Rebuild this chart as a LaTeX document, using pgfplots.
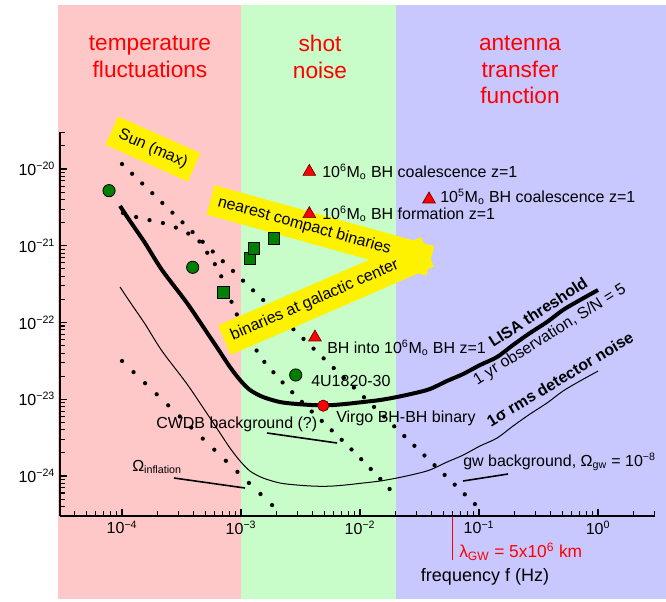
\documentclass[border=0pt]{standalone}
\usepackage{fontspec}
\setmainfont{Liberation Sans}
\usepackage{pgfplots}
\pgfplotsset{compat=1.18}
\definecolor{bgred}{RGB}{255,200,200}
\definecolor{bggreen}{RGB}{200,252,200}
\definecolor{bgblue}{RGB}{200,200,255}
\definecolor{mkgreen}{RGB}{0,128,0}
\begin{document}
\begin{tikzpicture}[font=\fontsize{12}{14.4}\selectfont]
% backgrounds in pixel units of the reference
\begin{scope}[x=0.75pt,y=-0.75pt,shift={(-59.8,-516.1)}]
  \path (0,0) rectangle (666,601);
  \fill[bgred] (58,5) rectangle (241,599);
  \fill[bggreen] (241,5) rectangle (396,599);
  \fill[bgblue] (396,5) rectangle (666,599);
  \node[red, font=\fontsize{17}{20}\selectfont, align=center, inner sep=0pt] at (150,57) {temperature\\fluctuations};
  \node[red, font=\fontsize{17}{20}\selectfont, align=center, inner sep=0pt] at (320,57) {shot\\noise};
  \node[red, font=\fontsize{17}{20}\selectfont, align=center, inner sep=0pt] at (520,70) {antenna\\transfer\\function};
\end{scope}
\begin{axis}[
  at={(0,0)}, anchor=south west,
  scale only axis, width=446.25pt, height=287.8pt,
  xmode=log, ymode=log,
  xmin=3e-5, xmax=3, ymin=3e-25, ymax=3e-20,
  clip=false,
  axis x line=bottom, axis y line=left,
  axis line style={-, line width=1.1pt},
  tick align=inside,
  major tick length=5.5pt, minor tick length=3.8pt,
  every tick/.style={black, line width=0.8pt},
  xtick={1e-4,1e-3,1e-2,1e-1,1},
  xticklabels={10\textsuperscript{−4},10\textsuperscript{−3},10\textsuperscript{−2},10\textsuperscript{−1},10\textsuperscript{0}},
  minor xtick={4e-5,5e-5,6e-5,7e-5,8e-5,9e-5,2e-4,3e-4,4e-4,5e-4,6e-4,7e-4,8e-4,9e-4,2e-3,3e-3,4e-3,5e-3,6e-3,7e-3,8e-3,9e-3,2e-2,3e-2,4e-2,5e-2,6e-2,7e-2,8e-2,9e-2,0.2,0.3,0.4,0.5,0.6,0.7,0.8,0.9,2,3},
  ytick={1e-24,1e-23,1e-22,1e-21,1e-20},
  yticklabels={10\textsuperscript{−24},10\textsuperscript{−23},10\textsuperscript{−22},10\textsuperscript{−21},10\textsuperscript{−20}},
  minor ytick={4e-25,5e-25,6e-25,7e-25,8e-25,9e-25,2e-24,3e-24,4e-24,5e-24,6e-24,7e-24,8e-24,9e-24,2e-23,3e-23,4e-23,5e-23,6e-23,7e-23,8e-23,9e-23,2e-22,3e-22,4e-22,5e-22,6e-22,7e-22,8e-22,9e-22,2e-21,3e-21,4e-21,5e-21,6e-21,7e-21,8e-21,9e-21,2e-20,3e-20},
  tick label style={font=\fontsize{12}{14.4}\selectfont},
]
% Sun (max) dotted line
\addplot[black, line width=3.2pt, line cap=round, dash pattern=on 0pt off 10.5pt] coordinates {(1e-4,1.16e-20) (0.098,3.94e-25)};
% compact binaries dotted curve
\addplot[black, line width=3.2pt, line cap=round, dash pattern=on 0pt off 10.3pt, smooth] coordinates {
(1.019e-4,2.67e-21) (1.311e-4,2.37e-21) (1.686e-4,2.165e-21) (2.21e-4,1.978e-21) (2.898e-4,1.703e-21)
(3.656e-4,1.423e-21) (4.52e-4,1.119e-21) (5.28e-4,7.81e-22) (6.165e-4,5.45e-22) (6.92e-4,3.80e-22)
(8.40e-4,1.795e-22) (9.44e-4,1.18e-22) (1.145e-3,6.88e-23) (1.39e-3,4.01e-23) (1.622e-3,2.88e-23)
(1.968e-3,2.07e-23) (2.343e-3,1.535e-23) (3.45e-3,8.41e-24) (5.08e-3,4.76e-24) (7.48e-3,2.69e-24)
(1.10e-2,1.477e-24) (1.622e-2,7.87e-25) (1.931e-2,5.83e-25)};
% lower dotted line
\addplot[black, line width=3.2pt, line cap=round, dash pattern=on 0pt off 12pt] coordinates {(1e-4,3.15e-23) (1.931e-3,3.83e-25)};
% LISA threshold
\addplot[black, line width=3pt, smooth] coordinates {
(9.62e-5,3.30e-21) (1.167e-4,2.10e-21) (1.561e-4,1.086e-21) (2.168e-4,4.83e-22) (3.517e-4,1.795e-22)
(5.488e-4,6.47e-23) (6.66e-4,4.13e-23) (8.08e-4,2.63e-23) (9.81e-4,1.78e-23) (1.19e-3,1.32e-23)
(1.53e-3,1.07e-23) (2.127e-3,9.20e-24) (2.955e-3,8.67e-24) (4.18e-3,8.37e-24) (5.60e-3,8.37e-24)
(7.48e-3,8.67e-24) (1.06e-2,9.20e-24) (1.472e-2,9.77e-24) (2.047e-2,1.07e-23) (2.90e-2,1.205e-23)
(3.876e-2,1.36e-23) (5.38e-2,1.73e-23) (7.34e-2,2.13e-23) (0.1019,2.79e-23) (0.1417,3.55e-23)
(0.1931,5.09e-23) (0.2683,7.30e-23) (0.3727,1.016e-22) (0.508,1.456e-22) (0.706,1.963e-22) (1.0,2.65e-22)};
% 1 sigma rms detector noise
\addplot[black, line width=0.75pt, smooth] coordinates {
(9.62e-5,2.90e-22) (1.167e-4,1.85e-22) (1.561e-4,9.56e-23) (2.168e-4,4.25e-23) (3.517e-4,1.58e-23)
(5.488e-4,5.69e-24) (6.66e-4,3.63e-24) (8.08e-4,2.31e-24) (9.81e-4,1.57e-24) (1.19e-3,1.16e-24)
(1.53e-3,9.42e-25) (2.127e-3,8.10e-25) (2.955e-3,7.63e-25) (4.18e-3,7.37e-25) (5.60e-3,7.37e-25)
(7.48e-3,7.63e-25) (1.06e-2,8.10e-25) (1.472e-2,8.60e-25) (2.047e-2,9.42e-25) (2.90e-2,1.06e-24)
(3.876e-2,1.20e-24) (5.38e-2,1.52e-24) (7.34e-2,1.87e-24) (0.1019,2.46e-24) (0.1417,3.12e-24)
(0.1931,4.48e-24) (0.2683,6.42e-24) (0.3727,8.94e-24) (0.508,1.28e-23) (0.706,1.73e-23) (1.0,2.33e-23)};
\end{axis}
% yellow label boxes (over the dotted lines, under the marks)
\begin{scope}[x=0.75pt,y=-0.75pt,shift={(-59.8,-516.1)}]
  \node[fill=yellow, rotate=-24, minimum width=67.5pt, minimum height=23.25pt, inner sep=0pt] at (153,149) {Sun (max)};
  \node[fill=yellow, rotate=-15.5, minimum width=171pt, minimum height=22.8pt] at (320.4,230.4) {};
  \node[fill=yellow, rotate=23.5, minimum width=166pt, minimum height=24pt] at (326,296) {};
  \node[rotate=-15.5, anchor=west, inner sep=0pt] at (218,202) {nearest compact binaries};
  \node[rotate=23.5, anchor=west, inner sep=0pt] at (231.3,336.8) {binaries at galactic center};
\end{scope}
\begin{axis}[
  at={(0,0)}, anchor=south west,
  scale only axis, width=446.25pt, height=287.8pt,
  xmode=log, ymode=log,
  xmin=3e-5, xmax=3, ymin=3e-25, ymax=3e-20,
  clip=false, hide axis,
]
% green circles
\addplot[only marks, mark=*, mark size=4.6pt, mark options={fill=mkgreen, draw=black, line width=0.6pt}] coordinates {(7.78e-5,5.22e-21) (3.926e-4,5.24e-22) (2.882e-3,2.07e-23)};
% green squares
\addplot[only marks, mark=square*, mark size=4.4pt, mark options={fill=mkgreen, draw=black, line width=0.6pt}] coordinates {(7.10e-4,2.445e-22) (1.19e-3,6.86e-22) (1.286e-3,9.26e-22) (1.894e-3,1.25e-21)};
% red triangles
\addplot[only marks, mark=triangle*, mark size=5.5pt, mark options={fill=red, draw=black!60!red, line width=0.5pt}] coordinates {(3.75e-3,9.22e-21) (3.75e-3,2.593e-21) (3.80e-2,4.03e-21) (4.18e-3,6.41e-23)};
% red circle
\addplot[only marks, mark=*, mark size=4.2pt, mark options={fill=red, draw=black!60!red, line width=0.6pt}] coordinates {(4.914e-3,8.24e-24)};
\end{axis}
\begin{scope}[x=0.75pt,y=-0.75pt,shift={(-59.8,-516.1)}]
  \begin{scope}[every node/.style={inner sep=0pt, anchor=west}]
  \node at (322,172) {10\textsuperscript{6}M\textsubscript{o} BH coalescence z=1};
  \node at (322,214) {10\textsuperscript{6}M\textsubscript{o} BH formation z=1};
  \node at (440,197) {10\textsuperscript{5}M\textsubscript{o} BH coalescence z=1};
  \node at (327,348) {BH into 10\textsuperscript{6}M\textsubscript{o} BH z=1};
  \node at (311,381) {4U1820-30};
  \node at (336,418) {Virgo BH-BH binary};
  \node at (156,424) {CWDB background (?)};
  \node at (132,467) {Ω\textsubscript{inflation}};
  \node at (463,462) {gw background, Ω\textsubscript{gw} = 10\textsuperscript{−8}};
  \node[red, font=\fontsize{13}{15.6}\selectfont] at (459,552) {λ\textsubscript{GW} = 5x10\textsuperscript{6} km};
  \end{scope}
  \node[inner sep=0pt, font=\fontsize{13.5}{16}\selectfont] at (485,577) {frequency f (Hz)};
  \node[inner sep=0pt, rotate=33, font=\fontsize{12}{14.4}\selectfont\bfseries] at (538,312) {LISA threshold};
  \node[inner sep=0pt, rotate=32] at (550,335) {1 yr observation, S/N = 5};
  \node[inner sep=0pt, rotate=31, font=\fontsize{12}{14.4}\selectfont\bfseries] at (560,379) {1σ rms detector noise};
  % pointer lines
  \draw[line width=1.2pt] (267,433) -- (337,443);
  \draw[line width=1.2pt] (174,478) -- (245,488);
  \draw[line width=1.2pt] (463,481) -- (508,474);
  \draw[red, line width=0.8pt] (452.3,516) -- (452.3,560);
\end{scope}
\end{tikzpicture}
\end{document}
